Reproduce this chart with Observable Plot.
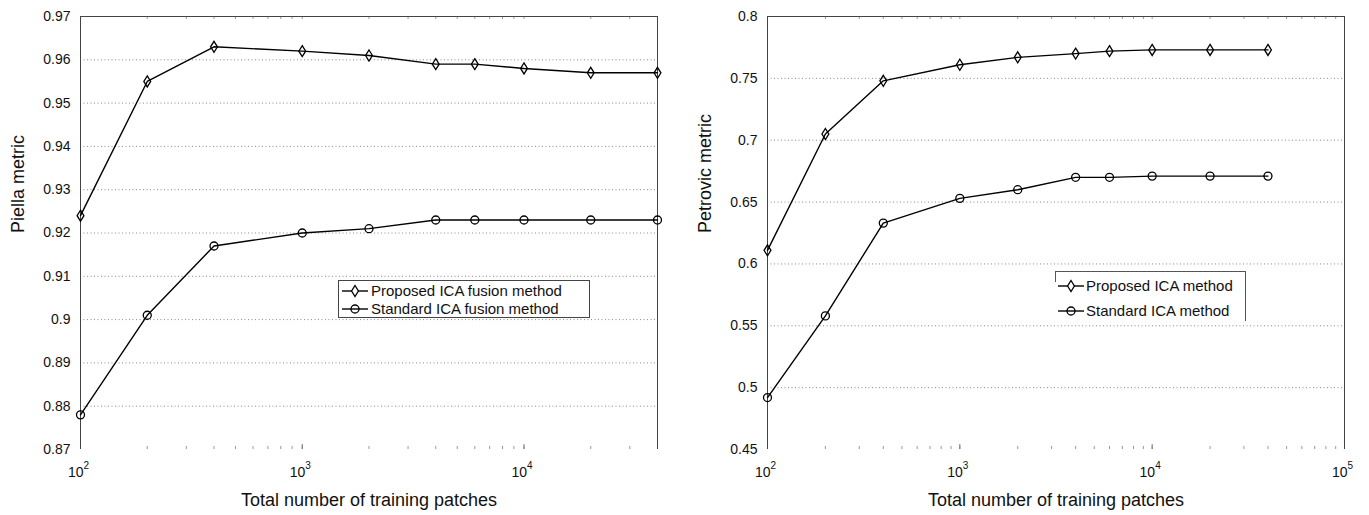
<!DOCTYPE html>
<html>
<head>
<meta charset="utf-8">
<script src="https://cdn.jsdelivr.net/npm/d3@7"></script>
<script src="https://cdn.jsdelivr.net/npm/@observablehq/plot@0.6"></script>
<style>
  body { margin: 0; background: #fff; font-family: "Liberation Sans", Arial, sans-serif; }
  #wrap { position: relative; width: 1369px; height: 515px; display: flex; }
  #wrap > svg { flex: none; }
  .legend { position: absolute; background: #fff; font-size: 15px; color: #111; box-sizing: border-box; }
  .legend .row { position: absolute; left: 0; display: flex; align-items: center; white-space: nowrap; }
  .legend svg { display: block; }
</style>
</head>
<body>
<div id="wrap"></div>
<script>
// ---- data ----
const patches = [100, 200, 400, 1000, 2000, 4000, 6000, 10000, 20000, 40000];
const piellaProposed = [0.924, 0.955, 0.963, 0.962, 0.961, 0.959, 0.959, 0.958, 0.957, 0.957];
const piellaStandard = [0.878, 0.901, 0.917, 0.920, 0.921, 0.923, 0.923, 0.923, 0.923, 0.923];
const petrovicProposed = [0.611, 0.705, 0.748, 0.761, 0.767, 0.770, 0.772, 0.773, 0.773, 0.773];
const petrovicStandard = [0.492, 0.558, 0.633, 0.653, 0.660, 0.670, 0.670, 0.671, 0.671, 0.671];

const leftYTicks = [0.87, 0.88, 0.89, 0.90, 0.91, 0.92, 0.93, 0.94, 0.95, 0.96, 0.97];
const rightYTicks = [0.45, 0.50, 0.55, 0.60, 0.65, 0.70, 0.75, 0.80];
const leftXTicks = [100, 1000, 10000];
const rightXTicks = [100, 1000, 10000, 100000];
const leftXDomain = [100, 40000];
const rightXDomain = [100, 100000];

const leftLabels = ["Proposed ICA fusion method", "Standard ICA fusion method"];
const rightLabels = ["Proposed ICA method", "Standard ICA method"];
const xTitle = "Total number of training patches";
const leftYTitle = "Piella metric";
const rightYTitle = "Petrovic metric";

// ---- helpers ----
const H = 515, MT = 16, MB = 66;
const plotH = H - MT - MB;

const tallDiamond = {
  draw(ctx, size) {
    const r = Math.sqrt(size / Math.PI);
    const h = r * 1.25, w = r * 0.78;
    ctx.moveTo(0, -h); ctx.lineTo(w, 0); ctx.lineTo(0, h); ctx.lineTo(-w, 0); ctx.closePath();
  }
};

function minorTicks([lo, hi]) {
  const out = [];
  for (let e = Math.floor(Math.log10(lo)); e <= Math.ceil(Math.log10(hi)); e++) {
    for (let m = 1; m < 10; m++) {
      const v = m * Math.pow(10, e);
      if (v > lo && v < hi) out.push(v);
    }
  }
  return out;
}

function panel({width, ml, mr, xDomain, xTicks, yTicks, proposed, standard, yTitle}) {
  const rowsP = patches.map((x, i) => ({x, y: proposed[i]}));
  const rowsS = patches.map((x, i) => ({x, y: standard[i]}));
  const yDomain = [yTicks[0], yTicks[yTicks.length - 1]];
  const minor = minorTicks(xDomain);
  const fmt = d => String(+d.toFixed(3));
  return Plot.plot({
    width, height: H,
    marginLeft: ml, marginRight: mr, marginTop: MT, marginBottom: MB,
    style: {fontFamily: '"Liberation Sans", Arial, sans-serif', fontSize: "14px", color: "#111", background: "#fff"},
    x: {type: "log", domain: xDomain, axis: null},
    y: {domain: yDomain, ticks: yTicks, tickFormat: fmt, tickSize: 0, tickPadding: 10, label: null},
    marks: [
      Plot.ruleY(yTicks.slice(1, -1), {stroke: "#8a8a8a", strokeDasharray: "1,2.5", strokeWidth: 1}),
      Plot.tickX(minor, {x: d => d, insetTop: plotH - 3, stroke: "#999", strokeWidth: 1}),
      Plot.tickX(minor, {x: d => d, insetBottom: plotH - 3, stroke: "#999", strokeWidth: 1}),
      Plot.tickX(xTicks, {x: d => d, insetTop: plotH - 5, stroke: "#777", strokeWidth: 1}),
      Plot.ruleY([yDomain[1]], {stroke: "#444", strokeWidth: 1}),
      Plot.ruleX(xDomain, {stroke: "#444", strokeWidth: 1}),
      Plot.line(rowsP, {x: "x", y: "y", stroke: "#000", strokeWidth: 1.4}),
      Plot.line(rowsS, {x: "x", y: "y", stroke: "#000", strokeWidth: 1.4}),
      Plot.dot(rowsP, {x: "x", y: "y", symbol: tallDiamond, r: 4.4, stroke: "#000", fill: "none", strokeWidth: 1.3}),
      Plot.dot(rowsS, {x: "x", y: "y", symbol: "circle", r: 4, stroke: "#000", fill: "none", strokeWidth: 1.3}),
      Plot.text(xTicks, {x: d => d, text: () => "10", frameAnchor: "bottom", textAnchor: "end", lineAnchor: "middle", dx: 3, dy: 23, fontSize: 14, fill: "#111"}),
      Plot.text(xTicks, {x: d => d, text: d => String(Math.round(Math.log10(d))), frameAnchor: "bottom", textAnchor: "start", lineAnchor: "middle", dx: 3, dy: 16, fontSize: 10, fill: "#111"}),
      Plot.text([xTitle], {text: d => d, frameAnchor: "bottom", lineAnchor: "middle", dy: 51, fontSize: 18, fill: "#111"}),
      Plot.text([yTitle], {text: d => d, frameAnchor: "left", rotate: -90, lineAnchor: "middle", dx: -62, fontSize: 18, fill: "#111"})
    ]
  });
}

const wrap = document.getElementById("wrap");
wrap.append(panel({width: 684, ml: 80, mr: 27, xDomain: leftXDomain, xTicks: leftXTicks, yTicks: leftYTicks,
  proposed: piellaProposed, standard: piellaStandard, yTitle: leftYTitle}));
wrap.append(panel({width: 685, ml: 83, mr: 25, xDomain: rightXDomain, xTicks: rightXTicks, yTicks: rightYTicks,
  proposed: petrovicProposed, standard: petrovicStandard, yTitle: rightYTitle}));

// ---- legends (HTML overlays) ----
function symbolSvg(kind) {
  const marker = kind === "d"
    ? '<path d="M13,2.5 L16.4,8 L13,13.5 L9.6,8 Z" fill="#fff" stroke="#000" stroke-width="1.3"/>'
    : '<circle cx="13" cy="8" r="4" fill="none" stroke="#000" stroke-width="1.3"/>';
  return `<svg width="26" height="16" viewBox="0 0 26 16"><line x1="0" y1="8" x2="26" y2="8" stroke="#000" stroke-width="1.4"/>${marker}</svg>`;
}
function legend({left, top, width, height, labels, rowTops, borders, gap}) {
  const div = document.createElement("div");
  div.className = "legend";
  Object.assign(div.style, {left: left + "px", top: top + "px", width: width + "px", height: height + "px"});
  Object.assign(div.style, borders);
  labels.forEach((lab, i) => {
    const row = document.createElement("div");
    row.className = "row";
    row.style.top = rowTops[i] + "px";
    row.style.left = "3px";
    row.innerHTML = symbolSvg(i === 0 ? "d" : "o") + `<span style="margin-left:${gap}px">${lab}</span>`;
    div.append(row);
  });
  wrap.append(div);
  return div;
}
legend({left: 338, top: 280, width: 252, height: 38, labels: leftLabels, rowTops: [1, 19], gap: 3,
  borders: {border: "1px solid #444"}});
const rl = legend({left: 1055, top: 271, width: 191, height: 50, labels: rightLabels, rowTops: [5, 30], gap: 2,
  borders: {borderTop: "1px solid #555", borderRight: "1px solid #555"}});
const stub = document.createElement("div");
Object.assign(stub.style, {position: "absolute", left: "1055px", top: "271px", width: "1px", height: "11px", background: "#555"});
wrap.append(stub);
</script>
</body>
</html>
